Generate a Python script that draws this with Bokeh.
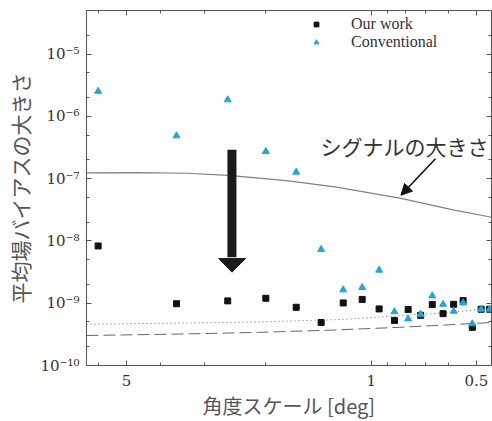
import math
from bokeh.plotting import figure
from bokeh.models import (Range1d, FixedTicker, LogAxis, Legend, LegendItem,
                          Arrow, NormalHead, Label, Title)
from bokeh.embed import file_html
from bokeh.resources import INLINE

# ---- data ----
angle_deg = [6.03, 3.60, 2.57, 2.00, 1.638, 1.39, 1.202, 1.061, 0.949, 0.858,
             0.784, 0.722, 0.669, 0.623, 0.581, 0.546, 0.514, 0.485, 0.459]
our_work = [8.3e-9, 9.8e-10, 1.09e-9, 1.2e-9, 8.6e-10, 4.9e-10, 1.01e-9, 1.15e-9,
            8.1e-10, 5.3e-10, 7.9e-10, 6.4e-10, 9.5e-10, 6.8e-10, 9.6e-10, 1.1e-9,
            4.1e-10, 8.0e-10, 8.0e-10]
conventional = [2.53e-6, 4.86e-7, 1.84e-6, 2.72e-7, 1.27e-7, 7.3e-9, 1.64e-9, 1.79e-9,
                3.39e-9, 7.3e-10, 5.6e-10, 6.65e-10, 1.31e-9, 9.6e-10, 7.45e-10, 1.01e-9,
                4.67e-10, 8.0e-10, 8.0e-10]

signal_x = [6.51, 4.69, 3.37, 2.56, 1.746, 1.256, 0.829, 0.583, 0.453]
signal_y = [1.24e-7, 1.25e-7, 1.22e-7, 1.13e-7, 9.3e-8, 7.3e-8, 4.85e-8, 3.16e-8, 2.4e-8]

dotted_x = [6.51, 3.0, 2.1, 1.2, 0.83, 0.6, 0.453]
dotted_y = [4.6e-10, 4.85e-10, 5.0e-10, 5.5e-10, 6.3e-10, 7.1e-10, 8.3e-10]

dashed_x = [6.51, 3.5, 2.1, 1.3, 0.83, 0.6, 0.453]
dashed_y = [3.03e-10, 3.2e-10, 3.4e-10, 3.7e-10, 4.1e-10, 4.5e-10, 4.9e-10]

x_major = [5, 1, 0.5]
x_major_labels = ["5", "1", "0.5"]
x_minor = [6, 4, 3, 2, 0.9, 0.8, 0.7, 0.6]
y_major = [1e-10, 1e-9, 1e-8, 1e-7, 1e-6, 1e-5]
y_major_labels = ["10⁻¹⁰", "10⁻⁹", "10⁻⁸", "10⁻⁷", "10⁻⁶", "10⁻⁵"]
y_minor = [m * 10.0 ** e for e in range(-10, -4) for m in (2, 5)]

x_title = "角度スケール [deg]"
y_title = "平均場バイアスの大きさ"
signal_title = "シグナルの大きさ"

# ---- figure ----
AX = "#555555"
p = figure(width=492, height=421, x_axis_type="log", y_axis_type="log",
           x_range=Range1d(6.51, 0.453), y_range=Range1d(1e-10, 5e-5),
           output_backend="svg", toolbar_location=None,
           min_border_left=86, min_border_right=1, min_border_top=10,
           min_border_bottom=56)
p.grid.visible = False
p.outline_line_color = AX
p.background_fill_color = "white"
p.border_fill_color = "white"

xt = FixedTicker(ticks=x_major, minor_ticks=x_minor)
yt = FixedTicker(ticks=y_major, minor_ticks=y_minor)


def style_axis(ax):
    ax.axis_line_color = AX
    ax.major_tick_line_color = AX
    ax.minor_tick_line_color = AX
    ax.major_tick_in = 5
    ax.major_tick_out = 0
    ax.minor_tick_in = 3
    ax.minor_tick_out = 0


p.xaxis.ticker = xt
p.yaxis.ticker = yt
style_axis(p.xaxis[0])
style_axis(p.yaxis[0])
p.xaxis.major_label_overrides = dict(zip(x_major, x_major_labels))
p.yaxis.major_label_overrides = dict(zip(y_major, y_major_labels))
for ax in (p.xaxis[0], p.yaxis[0]):
    ax.major_label_text_font = "DejaVu Serif"
    ax.major_label_text_font_size = "15px"
    ax.major_label_text_color = "#333333"
p.xaxis.major_label_standoff = 9
p.yaxis.major_label_standoff = 7

# y axis title
p.yaxis.axis_label = y_title
p.yaxis.axis_label_text_font = "Noto Sans CJK JP"
p.yaxis.axis_label_text_font_size = "21px"
p.yaxis.axis_label_text_font_style = "normal"
p.yaxis.axis_label_text_color = "#555555"
p.yaxis.axis_label_standoff = 2

# mirrored tick axes on top and right (labels invisible)
top = LogAxis(ticker=FixedTicker(ticks=x_major, minor_ticks=x_minor),
              major_label_text_font_size="1px", major_label_text_alpha=0,
              major_label_standoff=0)
style_axis(top)
p.add_layout(top, "above")
right = LogAxis(ticker=FixedTicker(ticks=y_major, minor_ticks=y_minor),
                major_label_text_font_size="1px", major_label_text_alpha=0,
                major_label_standoff=0)
style_axis(right)
p.add_layout(right, "right")

# x axis title (shifted right as in the reference)
p.add_layout(Title(text=x_title, align="center", offset=28,
                   text_font="Noto Sans CJK JP", text_font_size="20px",
                   text_font_style="normal", text_color="#555555",
                   standoff=0), "below")

# ---- curves ----
p.line(signal_x, signal_y, line_color="#808080", line_width=1.2)
p.line(dotted_x, dotted_y, line_color="#666666", line_width=1, line_dash="1 3")
p.line(dashed_x, dashed_y, line_color="#666666", line_width=1, line_dash="12 5")

# ---- points ----
r_our = p.scatter(angle_deg, our_work, marker="square", size=6,
                  fill_color="#111111", line_color="#111111")
r_conv = p.scatter(angle_deg, conventional, marker="triangle", size=7,
                   fill_color="#1fa6de", line_color="#1fa6de")

# ---- big downward arrow ----
BIG_X = 2.50
BIG_TOP, BIG_HEAD, BIG_TIP = 2.9e-7, 5.2e-9, 3.15e-9
HEAD_L, HEAD_R = 2.725, 2.286
p.segment(x0=[BIG_X], y0=[BIG_TOP], x1=[BIG_X], y1=[BIG_HEAD * 1.05],
          line_color="#1a1a1a", line_width=9, line_cap="butt")
p.patch([HEAD_L, HEAD_R, BIG_X], [BIG_HEAD, BIG_HEAD, BIG_TIP],
        fill_color="#1a1a1a", line_color="#1a1a1a")

# ---- signal annotation ----
p.add_layout(Arrow(end=NormalHead(size=11, fill_color="#111111", line_color="#111111"),
                   x_start=0.655, y_start=2.08e-7, x_end=0.822, y_end=5.4e-8,
                   line_color="#111111", line_width=1.6))
p.add_layout(Label(x=1.396, y=3.4e-7, text=signal_title,
                   text_font="Noto Sans CJK JP", text_font_size="21px",
                   text_color="#333333", text_baseline="middle", text_align="left"))

# ---- legend ----
legend = Legend(items=[LegendItem(label="Our work", renderers=[r_our]),
                       LegendItem(label="Conventional", renderers=[r_conv])],
                location=(224, 314), border_line_color=None,
                background_fill_alpha=0, padding=0, margin=0, spacing=0,
                glyph_width=12, glyph_height=12, label_height=18,
                label_standoff=29, label_text_font="Liberation Serif",
                label_text_font_size="16px", label_text_color="#333333")
p.add_layout(legend)

open("out.html", "w").write(file_html(p, INLINE))
